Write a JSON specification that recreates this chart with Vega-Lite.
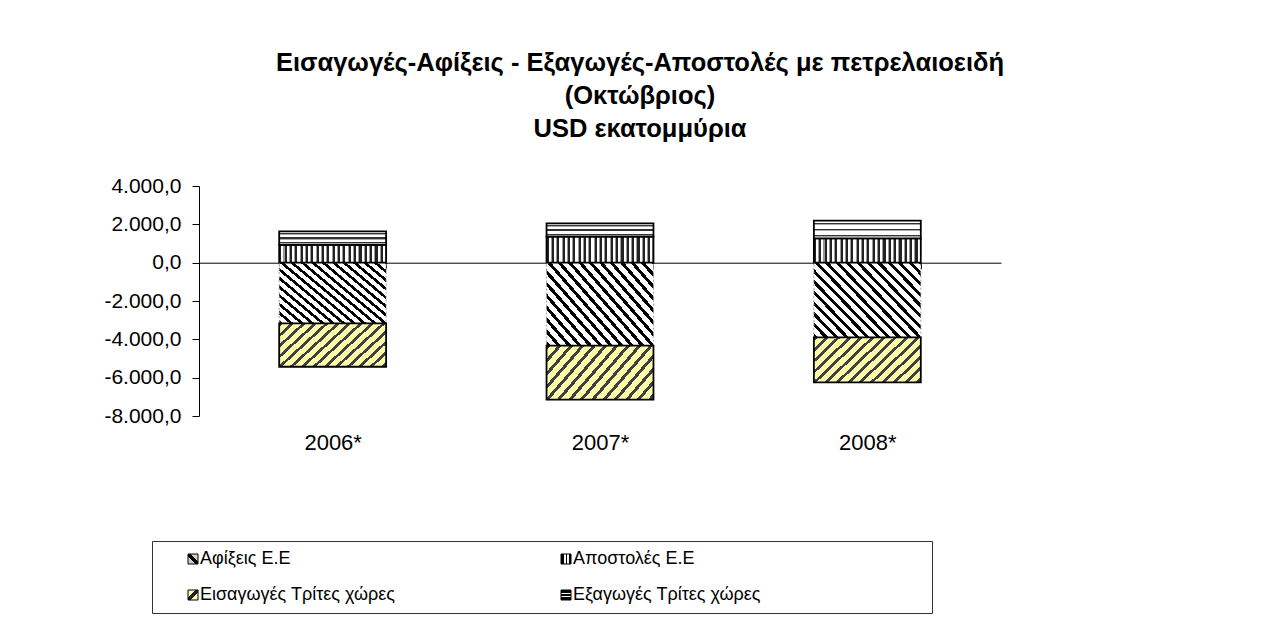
{
  "$schema": "https://vega.github.io/schema/vega-lite/v6.json",
  "autosize": "none",
  "width": 802,
  "height": 230,
  "padding": {"left": 199, "top": 186, "right": 268, "bottom": 205},
  "background": "white",
  "config": {
    "locale": {"number": {"decimal": ",", "thousands": ".", "grouping": [3], "currency": ["", " €"], "minus": "-"}},
    "view": {"stroke": null},
    "font": "Liberation Sans"
  },
  "title": {
    "text": ["Εισαγωγές-Αφίξεις - Εξαγωγές-Αποστολές με πετρελαιοειδή", "(Οκτώβριος)", "USD εκατομμύρια"],
    "font": "Liberation Sans",
    "fontSize": 25.5,
    "fontWeight": "bold",
    "lineHeight": 33,
    "anchor": "middle",
    "dx": 40,
    "offset": 33,
    "color": "black"
  },
  "data": {
    "values": [
      {"year": "2006*", "series": "Αφίξεις Ε.Ε", "value": -3170},
      {"year": "2006*", "series": "Αποστολές  Ε.Ε", "value": 924},
      {"year": "2006*", "series": "Εισαγωγές Τρίτες χώρες", "value": -2260},
      {"year": "2006*", "series": "Εξαγωγές Τρίτες χώρες", "value": 710},
      {"year": "2007*", "series": "Αφίξεις Ε.Ε", "value": -4330},
      {"year": "2007*", "series": "Αποστολές  Ε.Ε", "value": 1357},
      {"year": "2007*", "series": "Εισαγωγές Τρίτες χώρες", "value": -2820},
      {"year": "2007*", "series": "Εξαγωγές Τρίτες χώρες", "value": 694},
      {"year": "2008*", "series": "Αφίξεις Ε.Ε", "value": -3900},
      {"year": "2008*", "series": "Αποστολές  Ε.Ε", "value": 1268},
      {"year": "2008*", "series": "Εισαγωγές Τρίτες χώρες", "value": -2350},
      {"year": "2008*", "series": "Εξαγωγές Τρίτες χώρες", "value": 924}
    ]
  },
  "mark": {"type": "bar"},
  "encoding": {
    "x": {
      "field": "year",
      "type": "nominal",
      "scale": {"paddingInner": 0.6, "paddingOuter": 0.3},
      "axis": {
        "title": null,
        "orient": "bottom",
        "offset": -153.3,
        "tickBand": "extent",
        "tickSize": 6,
        "tickColor": "black",
        "domainColor": "black",
        "labelAngle": 0,
        "labelFont": "Liberation Sans",
        "labelFontSize": 22,
        "labelColor": "black",
        "labelPadding": 164
      }
    },
    "y": {
      "field": "value",
      "type": "quantitative",
      "stack": "zero",
      "scale": {"domain": [-8000, 4000], "nice": false},
      "axis": {
        "title": null,
        "values": [-8000, -6000, -4000, -2000, 0, 2000, 4000],
        "format": ",.1f",
        "grid": false,
        "domainColor": "black",
        "tickColor": "black",
        "tickSize": 7,
        "labelFont": "Liberation Sans",
        "labelFontSize": 21,
        "labelColor": "black",
        "labelPadding": 11
      }
    },
    "order": {"field": "series", "type": "ordinal", "sort": "ascending"},
    "fill": {
      "field": "series",
      "type": "nominal",
      "scale": {
        "domain": ["Αφίξεις Ε.Ε", "Αποστολές  Ε.Ε", "Εισαγωγές Τρίτες χώρες", "Εξαγωγές Τρίτες χώρες"],
        "range": [
          {"expr": "{gradient:'linear',x1:0,y1:1,x2:1,y2:0,stops:[{offset:0,color:'#d0d0d0'},{offset:0.36,color:'#d0d0d0'},{offset:0.36,color:'#000000'},{offset:0.64,color:'#000000'},{offset:0.64,color:'#d0d0d0'},{offset:1,color:'#d0d0d0'}]}"},
          {"expr": "{gradient:'linear',x1:0,y1:0,x2:1,y2:0,stops:[{offset:0,color:'#000000'},{offset:0.3,color:'#000000'},{offset:0.3,color:'#ffffff'},{offset:0.45,color:'#ffffff'},{offset:0.45,color:'#000000'},{offset:0.6,color:'#000000'},{offset:0.6,color:'#ffffff'},{offset:0.75,color:'#ffffff'},{offset:0.75,color:'#000000'},{offset:1,color:'#000000'}]}"},
          {"expr": "{gradient:'linear',x1:0,y1:0,x2:1,y2:1,stops:[{offset:0,color:'#fbfbaa'},{offset:0.38,color:'#fbfbaa'},{offset:0.38,color:'#222222'},{offset:0.62,color:'#222222'},{offset:0.62,color:'#fbfbaa'},{offset:1,color:'#fbfbaa'}]}"},
          {"expr": "{gradient:'linear',x1:0,y1:0,x2:0,y2:1,stops:[{offset:0,color:'#000000'},{offset:0.3,color:'#000000'},{offset:0.3,color:'#ffffff'},{offset:0.45,color:'#ffffff'},{offset:0.45,color:'#000000'},{offset:0.6,color:'#000000'},{offset:0.6,color:'#ffffff'},{offset:0.75,color:'#ffffff'},{offset:0.75,color:'#000000'},{offset:1,color:'#000000'}]}"}
        ]
      },
      "condition": [
        {"test": "datum.series === 'Αφίξεις Ε.Ε'", "value": {"gradient": "linear", "x1": 0, "y1": 1, "x2": 1.2, "y2": 0.184, "stops": [
          {"offset":0,"color":"#000"},{"offset":0.0222,"color":"#000"},{"offset":0.0222,"color":"#fff"},{"offset":0.0556,"color":"#fff"},
          {"offset":0.0556,"color":"#000"},{"offset":0.0778,"color":"#000"},{"offset":0.0778,"color":"#fff"},{"offset":0.1111,"color":"#fff"},
          {"offset":0.1111,"color":"#000"},{"offset":0.1333,"color":"#000"},{"offset":0.1333,"color":"#fff"},{"offset":0.1667,"color":"#fff"},
          {"offset":0.1667,"color":"#000"},{"offset":0.1889,"color":"#000"},{"offset":0.1889,"color":"#fff"},{"offset":0.2222,"color":"#fff"},
          {"offset":0.2222,"color":"#000"},{"offset":0.2444,"color":"#000"},{"offset":0.2444,"color":"#fff"},{"offset":0.2778,"color":"#fff"},
          {"offset":0.2778,"color":"#000"},{"offset":0.3,"color":"#000"},{"offset":0.3,"color":"#fff"},{"offset":0.3333,"color":"#fff"},
          {"offset":0.3333,"color":"#000"},{"offset":0.3556,"color":"#000"},{"offset":0.3556,"color":"#fff"},{"offset":0.3889,"color":"#fff"},
          {"offset":0.3889,"color":"#000"},{"offset":0.4111,"color":"#000"},{"offset":0.4111,"color":"#fff"},{"offset":0.4444,"color":"#fff"},
          {"offset":0.4444,"color":"#000"},{"offset":0.4667,"color":"#000"},{"offset":0.4667,"color":"#fff"},{"offset":0.5,"color":"#fff"},
          {"offset":0.5,"color":"#000"},{"offset":0.5222,"color":"#000"},{"offset":0.5222,"color":"#fff"},{"offset":0.5556,"color":"#fff"},
          {"offset":0.5556,"color":"#000"},{"offset":0.5778,"color":"#000"},{"offset":0.5778,"color":"#fff"},{"offset":0.6111,"color":"#fff"},
          {"offset":0.6111,"color":"#000"},{"offset":0.6333,"color":"#000"},{"offset":0.6333,"color":"#fff"},{"offset":0.6667,"color":"#fff"},
          {"offset":0.6667,"color":"#000"},{"offset":0.6889,"color":"#000"},{"offset":0.6889,"color":"#fff"},{"offset":0.7222,"color":"#fff"},
          {"offset":0.7222,"color":"#000"},{"offset":0.7444,"color":"#000"},{"offset":0.7444,"color":"#fff"},{"offset":0.7778,"color":"#fff"},
          {"offset":0.7778,"color":"#000"},{"offset":0.8,"color":"#000"},{"offset":0.8,"color":"#fff"},{"offset":0.8333,"color":"#fff"},
          {"offset":0.8333,"color":"#000"},{"offset":0.8556,"color":"#000"},{"offset":0.8556,"color":"#fff"},{"offset":0.8889,"color":"#fff"},
          {"offset":0.8889,"color":"#000"},{"offset":0.9111,"color":"#000"},{"offset":0.9111,"color":"#fff"},{"offset":0.9444,"color":"#fff"},
          {"offset":0.9444,"color":"#000"},{"offset":0.9667,"color":"#000"},{"offset":0.9667,"color":"#fff"},{"offset":1,"color":"#fff"}
        ]}},
        {"test": "datum.series === 'Εισαγωγές Τρίτες χώρες'", "value": {"gradient": "linear", "x1": 0, "y1": 0, "x2": 1.25, "y2": 0.55, "stops": [
          {"offset":0,"color":"#404040"},{"offset":0.025,"color":"#404040"},{"offset":0.025,"color":"#fbfbaa"},{"offset":0.0714,"color":"#fbfbaa"},
          {"offset":0.0714,"color":"#404040"},{"offset":0.0964,"color":"#404040"},{"offset":0.0964,"color":"#fbfbaa"},{"offset":0.1429,"color":"#fbfbaa"},
          {"offset":0.1429,"color":"#404040"},{"offset":0.1679,"color":"#404040"},{"offset":0.1679,"color":"#fbfbaa"},{"offset":0.2143,"color":"#fbfbaa"},
          {"offset":0.2143,"color":"#404040"},{"offset":0.2393,"color":"#404040"},{"offset":0.2393,"color":"#fbfbaa"},{"offset":0.2857,"color":"#fbfbaa"},
          {"offset":0.2857,"color":"#404040"},{"offset":0.3107,"color":"#404040"},{"offset":0.3107,"color":"#fbfbaa"},{"offset":0.3571,"color":"#fbfbaa"},
          {"offset":0.3571,"color":"#404040"},{"offset":0.3821,"color":"#404040"},{"offset":0.3821,"color":"#fbfbaa"},{"offset":0.4286,"color":"#fbfbaa"},
          {"offset":0.4286,"color":"#404040"},{"offset":0.4536,"color":"#404040"},{"offset":0.4536,"color":"#fbfbaa"},{"offset":0.5,"color":"#fbfbaa"},
          {"offset":0.5,"color":"#404040"},{"offset":0.525,"color":"#404040"},{"offset":0.525,"color":"#fbfbaa"},{"offset":0.5714,"color":"#fbfbaa"},
          {"offset":0.5714,"color":"#404040"},{"offset":0.5964,"color":"#404040"},{"offset":0.5964,"color":"#fbfbaa"},{"offset":0.6429,"color":"#fbfbaa"},
          {"offset":0.6429,"color":"#404040"},{"offset":0.6679,"color":"#404040"},{"offset":0.6679,"color":"#fbfbaa"},{"offset":0.7143,"color":"#fbfbaa"},
          {"offset":0.7143,"color":"#404040"},{"offset":0.7393,"color":"#404040"},{"offset":0.7393,"color":"#fbfbaa"},{"offset":0.7857,"color":"#fbfbaa"},
          {"offset":0.7857,"color":"#404040"},{"offset":0.8107,"color":"#404040"},{"offset":0.8107,"color":"#fbfbaa"},{"offset":0.8571,"color":"#fbfbaa"},
          {"offset":0.8571,"color":"#404040"},{"offset":0.8821,"color":"#404040"},{"offset":0.8821,"color":"#fbfbaa"},{"offset":0.9286,"color":"#fbfbaa"},
          {"offset":0.9286,"color":"#404040"},{"offset":0.9536,"color":"#404040"},{"offset":0.9536,"color":"#fbfbaa"},{"offset":1,"color":"#fbfbaa"}
        ]}},
        {"test": "datum.series === 'Αποστολές  Ε.Ε'", "value": {"gradient": "linear", "x1": 0, "y1": 0, "x2": 1, "y2": 0, "stops": [
          {"offset":0,"color":"#222"},{"offset":0.02,"color":"#222"},{"offset":0.02,"color":"#fff"},{"offset":0.04,"color":"#fff"},{"offset":0.04,"color":"#999"},{"offset":0.05,"color":"#999"},
          {"offset":0.05,"color":"#222"},{"offset":0.07,"color":"#222"},{"offset":0.07,"color":"#fff"},{"offset":0.09,"color":"#fff"},{"offset":0.09,"color":"#999"},{"offset":0.1,"color":"#999"},
          {"offset":0.1,"color":"#222"},{"offset":0.12,"color":"#222"},{"offset":0.12,"color":"#fff"},{"offset":0.14,"color":"#fff"},{"offset":0.14,"color":"#999"},{"offset":0.15,"color":"#999"},
          {"offset":0.15,"color":"#222"},{"offset":0.17,"color":"#222"},{"offset":0.17,"color":"#fff"},{"offset":0.19,"color":"#fff"},{"offset":0.19,"color":"#999"},{"offset":0.2,"color":"#999"},
          {"offset":0.2,"color":"#222"},{"offset":0.22,"color":"#222"},{"offset":0.22,"color":"#fff"},{"offset":0.24,"color":"#fff"},{"offset":0.24,"color":"#999"},{"offset":0.25,"color":"#999"},
          {"offset":0.25,"color":"#222"},{"offset":0.27,"color":"#222"},{"offset":0.27,"color":"#fff"},{"offset":0.29,"color":"#fff"},{"offset":0.29,"color":"#999"},{"offset":0.3,"color":"#999"},
          {"offset":0.3,"color":"#222"},{"offset":0.32,"color":"#222"},{"offset":0.32,"color":"#fff"},{"offset":0.34,"color":"#fff"},{"offset":0.34,"color":"#999"},{"offset":0.35,"color":"#999"},
          {"offset":0.35,"color":"#222"},{"offset":0.37,"color":"#222"},{"offset":0.37,"color":"#fff"},{"offset":0.39,"color":"#fff"},{"offset":0.39,"color":"#999"},{"offset":0.4,"color":"#999"},
          {"offset":0.4,"color":"#222"},{"offset":0.42,"color":"#222"},{"offset":0.42,"color":"#fff"},{"offset":0.44,"color":"#fff"},{"offset":0.44,"color":"#999"},{"offset":0.45,"color":"#999"},
          {"offset":0.45,"color":"#222"},{"offset":0.47,"color":"#222"},{"offset":0.47,"color":"#fff"},{"offset":0.49,"color":"#fff"},{"offset":0.49,"color":"#999"},{"offset":0.5,"color":"#999"},
          {"offset":0.5,"color":"#222"},{"offset":0.52,"color":"#222"},{"offset":0.52,"color":"#fff"},{"offset":0.54,"color":"#fff"},{"offset":0.54,"color":"#999"},{"offset":0.55,"color":"#999"},
          {"offset":0.55,"color":"#222"},{"offset":0.57,"color":"#222"},{"offset":0.57,"color":"#fff"},{"offset":0.59,"color":"#fff"},{"offset":0.59,"color":"#999"},{"offset":0.6,"color":"#999"},
          {"offset":0.6,"color":"#222"},{"offset":0.62,"color":"#222"},{"offset":0.62,"color":"#fff"},{"offset":0.64,"color":"#fff"},{"offset":0.64,"color":"#999"},{"offset":0.65,"color":"#999"},
          {"offset":0.65,"color":"#222"},{"offset":0.67,"color":"#222"},{"offset":0.67,"color":"#fff"},{"offset":0.69,"color":"#fff"},{"offset":0.69,"color":"#999"},{"offset":0.7,"color":"#999"},
          {"offset":0.7,"color":"#222"},{"offset":0.72,"color":"#222"},{"offset":0.72,"color":"#fff"},{"offset":0.74,"color":"#fff"},{"offset":0.74,"color":"#999"},{"offset":0.75,"color":"#999"},
          {"offset":0.75,"color":"#222"},{"offset":0.77,"color":"#222"},{"offset":0.77,"color":"#fff"},{"offset":0.79,"color":"#fff"},{"offset":0.79,"color":"#999"},{"offset":0.8,"color":"#999"},
          {"offset":0.8,"color":"#222"},{"offset":0.82,"color":"#222"},{"offset":0.82,"color":"#fff"},{"offset":0.84,"color":"#fff"},{"offset":0.84,"color":"#999"},{"offset":0.85,"color":"#999"},
          {"offset":0.85,"color":"#222"},{"offset":0.87,"color":"#222"},{"offset":0.87,"color":"#fff"},{"offset":0.89,"color":"#fff"},{"offset":0.89,"color":"#999"},{"offset":0.9,"color":"#999"},
          {"offset":0.9,"color":"#222"},{"offset":0.92,"color":"#222"},{"offset":0.92,"color":"#fff"},{"offset":0.94,"color":"#fff"},{"offset":0.94,"color":"#999"},{"offset":0.95,"color":"#999"},
          {"offset":0.95,"color":"#222"},{"offset":0.97,"color":"#222"},{"offset":0.97,"color":"#fff"},{"offset":0.99,"color":"#fff"},{"offset":0.99,"color":"#999"},{"offset":1,"color":"#999"}
        ]}},
        {"test": "datum.series === 'Εξαγωγές Τρίτες χώρες'", "value": {"gradient": "linear", "x1": 0, "y1": 0, "x2": 0, "y2": 1, "stops": [
          {"offset":0,"color":"#fff"},{"offset":0.1167,"color":"#fff"},{"offset":0.1167,"color":"#333"},{"offset":0.2167,"color":"#333"},{"offset":0.2167,"color":"#aaa"},{"offset":0.2667,"color":"#aaa"},
          {"offset":0.2667,"color":"#fff"},{"offset":0.45,"color":"#fff"},{"offset":0.45,"color":"#333"},{"offset":0.55,"color":"#333"},{"offset":0.55,"color":"#aaa"},{"offset":0.6,"color":"#aaa"},
          {"offset":0.6,"color":"#fff"},{"offset":0.7833,"color":"#fff"},{"offset":0.7833,"color":"#333"},{"offset":0.8833,"color":"#333"},{"offset":0.8833,"color":"#aaa"},{"offset":0.9333,"color":"#aaa"},
          {"offset":0.9333,"color":"#fff"},{"offset":1,"color":"#fff"}
        ]}}
      ],
      "legend": {
        "title": "\u00a0",
        "titleOrient": "right",
        "titlePadding": 162,
        "titleFontSize": 10,
        "orient": "none",
        "direction": "horizontal",
        "legendX": -47,
        "legendY": 355,
        "columns": 2,
        "columnPadding": 138,
        "rowPadding": 18,
        "padding": 9,
        "strokeColor": "#333333",
        "fillColor": "white",
        "symbolType": "square",
        "symbolSize": 100,
        "symbolStrokeColor": "#000000",
        "symbolStrokeWidth": 1,
        "symbolOffset": 23,
        "labelOffset": -2,
        "labelFont": "Liberation Sans",
        "labelFontSize": 18,
        "labelColor": "black",
        "labelLimit": 400
      }
    },
    "stroke": {"condition": {"test": "datum.series === 'Αφίξεις Ε.Ε'", "value": "#a0a0a0"}, "value": "#000000"},
    "strokeWidth": {"condition": {"test": "datum.series === 'Αφίξεις Ε.Ε'", "value": 1}, "value": 1.8},
    "strokeDash": {"condition": {"test": "datum.series === 'Αφίξεις Ε.Ε'", "value": [2, 2]}, "value": [1, 0]}
  }
}
